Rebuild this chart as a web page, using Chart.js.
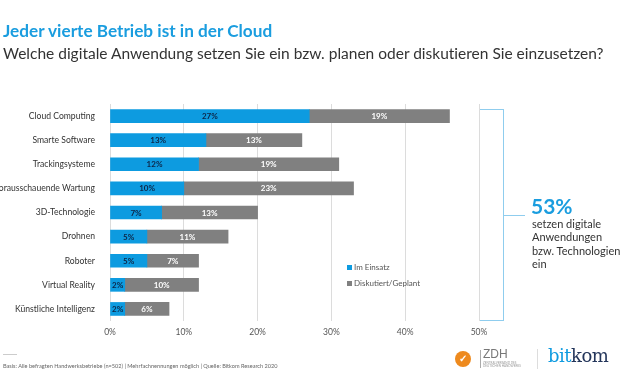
<!DOCTYPE html>
<html><head><meta charset="utf-8">
<script src="https://cdn.jsdelivr.net/npm/chart.js@4.4.1/dist/chart.umd.min.js"></script>
<style>
html,body{margin:0;padding:0;background:#fff;}
body{width:620px;height:380px;position:relative;overflow:hidden;font-family:Lato,"Noto Sans",sans-serif;}
#c{position:absolute;left:0;top:0;}
.t{position:absolute;white-space:nowrap;}
#title{left:3px;top:20px;font-size:17.2px;font-weight:bold;color:#1a9ddf;}
#sub{left:3px;top:44px;font-size:15.5px;color:#333;font-variant-ligatures:none;}
#big{left:531px;top:193px;font-size:21px;font-weight:bold;color:#1a9ddf;}
#note{left:532px;top:217px;font-size:11px;line-height:13.3px;color:#333;}
.leg{font-size:8px;color:#555;}
.sq{display:inline-block;width:5px;height:5px;margin-right:2px;vertical-align:0px;}
.bl{position:absolute;background:#8fcdee;}
#foot{left:3px;top:362px;font-size:5.6px;color:#666;}
</style></head><body>
<canvas id="c" width="620" height="380"></canvas>
<div class="t" id="title">Jeder vierte Betrieb ist in der Cloud</div>
<div class="t" id="sub">Welche digitale Anwendung setzen Sie ein bzw. planen oder diskutieren Sie einzusetzen?</div>
<div class="t leg" style="left:347px;top:262px;"><span class="sq" style="background:#0d9be0"></span>Im Einsatz</div>
<div class="t leg" style="left:347px;top:278px;"><span class="sq" style="background:#808080"></span>Diskutiert/Geplant</div>
<div class="bl" style="left:480px;top:109px;width:23px;height:1px;"></div>
<div class="bl" style="left:503px;top:109px;width:1px;height:212px;"></div>
<div class="bl" style="left:480px;top:320px;width:23px;height:1px;"></div>
<div class="bl" style="left:503px;top:215px;width:22px;height:1px;"></div>
<div class="t" id="big">53%</div>
<div class="t" id="note">setzen digitale<br>Anwendungen<br>bzw. Technologien<br>ein</div>
<div style="position:absolute;left:3px;top:354px;width:14px;height:1px;background:#ccc;"></div>
<div class="t" id="foot">Basis: Alle befragten Handwerksbetriebe (n=502) | Mehrfachnennungen möglich | Quelle: Bitkom Research 2020</div>
<div style="position:absolute;left:455px;top:351px;width:16px;height:16px;border-radius:50%;background:#ee8a1e;"></div>
<div class="t" style="left:459px;top:352px;font-size:10px;color:#fff;font-weight:bold;">✓</div>
<div style="position:absolute;left:480px;top:350px;width:1px;height:18px;background:#aaa;"></div>
<div class="t" style="left:483px;top:347px;font-size:12px;color:#777;font-family:'Liberation Sans',sans-serif;">ZDH</div>
<div class="t" style="left:483px;top:362px;font-size:3px;color:#999;line-height:3px;">ZENTRALVERBAND DES<br>DEUTSCHEN HANDWERKS</div>
<div style="position:absolute;left:537px;top:349px;width:1px;height:20px;background:#ddd;"></div>
<div class="t" style="left:548px;top:345px;font-size:18px;font-family:'DejaVu Serif',serif;letter-spacing:-0.5px;"><span style="color:#0f9be0">bit</span><span style="color:#23355a">kom</span></div>
<script>
const categories=["Cloud Computing","Smarte Software","Trackingsysteme","Vorausschauende Wartung","3D-Technologie","Drohnen","Roboter","Virtual Reality","Künstliche Intelligenz"];
const imEinsatz=[27,13,12,10,7,5,5,2,2];
const diskutiert=[19,13,19,23,13,11,7,10,6];
const xTicks=[0,10,20,30,40,50];

const valueLabels={
  id:'valueLabels',
  afterDatasetsDraw(chart){
    const ctx=chart.ctx;
    ctx.save();
    ctx.font='bold 8px Lato, "Noto Sans", sans-serif';
    ctx.textAlign='center';ctx.textBaseline='middle';
    chart.data.datasets.forEach((ds,di)=>{
      const meta=chart.getDatasetMeta(di);
      meta.data.forEach((bar,i)=>{
        const p=bar.getProps(['x','base','y'],true);
        const cx=(p.x+p.base)/2;
        ctx.fillStyle=di===0?'#0d2546':'#ffffff';
        ctx.fillText(ds.data[i]+'%',cx,p.y+0.5);
      });
    });
    ctx.restore();
  }
};

new Chart(document.getElementById('c'),{
  type:'bar',
  data:{labels:categories,datasets:[
    {label:'Im Einsatz',data:imEinsatz,backgroundColor:'#0d9be0',barThickness:13},
    {label:'Diskutiert/Geplant',data:diskutiert,backgroundColor:'#808080',barThickness:13}
  ]},
  options:{
    indexAxis:'y',responsive:false,animation:false,
    layout:{padding:{top:104,right:141,bottom:39,left:0}},
    plugins:{legend:{display:false},tooltip:{enabled:false}},
    scales:{
      x:{stacked:true,min:0,max:50,
        afterBuildTicks(s){s.ticks=xTicks.map(v=>({value:v}));},
        afterFit(s){s.height=20;},
        grid:{color:'#dcdcdc',drawTicks:false},
        border:{display:false},
        ticks:{padding:6,color:'#555',font:{size:8.5,family:'Lato'},callback:v=>v+'%'}},
      y:{stacked:true,
        afterFit(s){s.width=110;},
        grid:{display:false},border:{display:false},
        ticks:{autoSkip:false,padding:7,color:'#333',font:{size:8.6,family:'Lato'}}}
    }
  },
  plugins:[valueLabels]
});
</script>
</body></html>
